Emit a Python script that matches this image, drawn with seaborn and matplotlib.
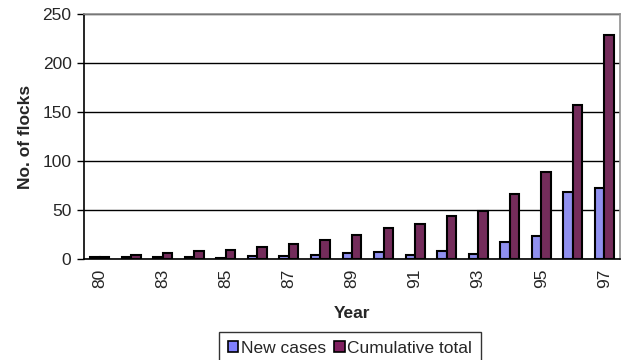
import matplotlib
matplotlib.use("Agg")
import matplotlib.pyplot as plt
from matplotlib.patches import Patch
import seaborn as sns
import pandas as pd

# Flock counts per year
years = ["80", "82", "83", "84", "85", "86", "87", "88", "89", "90",
         "91", "92", "93", "94", "95", "96", "97"]
new_cases = [2, 2, 2, 2, 1, 3, 3, 4, 6, 7, 4, 8, 5, 17, 23, 68, 72]
cumulative = [2, 4, 6, 8, 9, 12, 15, 19, 25, 32, 36, 44, 49, 66, 89, 157, 229]
series_names = ["New cases", "Cumulative total"]
y_ticks = [0, 50, 100, 150, 200, 250]

colors = ["#8080FF", "#80205F"]

df = pd.DataFrame({
    "Year": years * 2,
    "Series": [series_names[0]] * len(years) + [series_names[1]] * len(years),
    "Flocks": new_cases + cumulative,
})

sns.set_style("white")
plt.rcParams["font.family"] = ["Liberation Sans", "DejaVu Sans"]

fig = plt.figure(figsize=(6.27, 3.60), dpi=100)
ax = fig.add_axes([84 / 627, 1 - 259 / 360, (620 - 84) / 627, (259 - 14) / 360])

sns.barplot(data=df, x="Year", y="Flocks", hue="Series", order=years,
            hue_order=series_names, palette=colors, width=0.6, gap=0,
            edgecolor="black", linewidth=1.5, legend=False, ax=ax)

ax.set_xlim(-0.5, len(years) - 0.5)
ax.set_ylim(0, 250)
ax.set_yticks(y_ticks)
ax.set_yticklabels([str(v) for v in y_ticks], fontsize=12.5)
ax.yaxis.grid(True, color="black", linewidth=1.0)
ax.set_axisbelow(True)

# category labels every other group, tick marks on group boundaries
ax.set_xticks(range(len(years)))
ax.set_xticklabels([y if i % 2 == 0 else "" for i, y in enumerate(years)],
                   rotation=90, fontsize=12.5)
ax.tick_params(axis="x", which="major", length=0, pad=7)
ax.set_xticks([i - 0.5 for i in range(len(years) + 1)], minor=True)
ax.tick_params(axis="x", which="minor", direction="inout", length=9,
               width=1, color="#404040")
ax.tick_params(axis="y", which="major", direction="out", length=5,
               width=1, color="black", left=True, pad=4)

for side in ["left", "bottom"]:
    ax.spines[side].set_color("black")
    ax.spines[side].set_linewidth(1.2)
for side in ["top", "right"]:
    ax.spines[side].set_visible(True)
    ax.spines[side].set_color("#909090")
    ax.spines[side].set_linewidth(1.2)

ax.set_xlabel("Year", fontsize=12.5, fontweight="bold", labelpad=13)
ax.set_ylabel("No. of flocks", fontsize=12.5, fontweight="bold", labelpad=7)

handles = [Patch(facecolor=c, edgecolor="black", linewidth=1.2) for c in colors]
leg = fig.legend(handles, series_names, loc="upper center",
                 bbox_to_anchor=(350 / 627, 1 - 332 / 360), ncol=2,
                 fontsize=12.5, frameon=True, fancybox=False,
                 handlelength=0.6, handleheight=0.6, handletextpad=0.15,
                 columnspacing=0.5, borderpad=0.5, borderaxespad=0)
leg.get_frame().set_edgecolor("black")
leg.get_frame().set_linewidth(1.0)

fig.savefig("out.png", dpi=100)
